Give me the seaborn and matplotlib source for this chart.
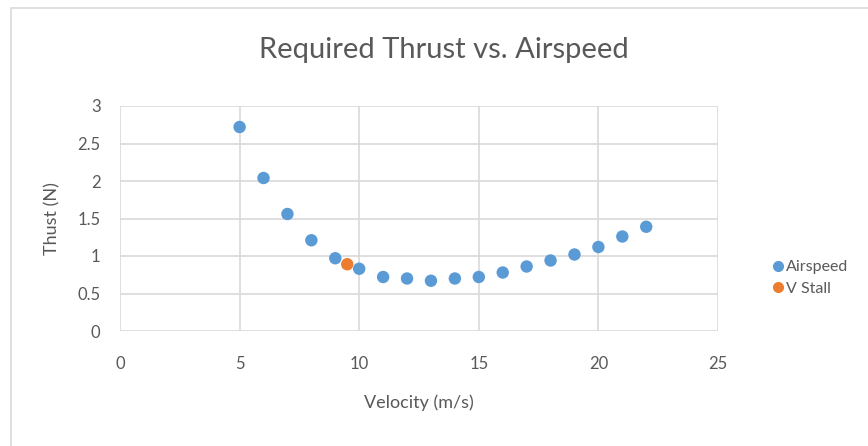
import matplotlib
matplotlib.use("Agg")
import matplotlib.pyplot as plt
import seaborn as sns
import pandas as pd
from matplotlib.patches import Rectangle
from matplotlib.lines import Line2D

velocity = [5, 6, 7, 8, 9, 10, 11, 12, 13, 14, 15, 16, 17, 18, 19, 20, 21, 22]
thrust = [2.72, 2.04, 1.56, 1.21, 0.97, 0.83, 0.72, 0.70, 0.67, 0.70, 0.72, 0.78, 0.86, 0.94, 1.02, 1.12, 1.26, 1.39]
stall_velocity = [9.5]
stall_thrust = [0.89]

series_names = ["Airspeed", "V Stall"]
colors = ["#5B9BD5", "#ED7D31"]
title = "Required Thrust vs. Airspeed"
xlabel = "Velocity (m/s)"
ylabel = "Thust (N)"

sns.set_theme(style="white")
plt.rcParams['font.family'] = ['Lato', 'DejaVu Sans']
text_color = "#595959"

fig = plt.figure(figsize=(8.68, 4.46), dpi=100)
fig.patches.append(Rectangle((11 / 868, -0.1), 2.0, (446 - 8) / 446 + 0.1,
                             transform=fig.transFigure, facecolor="none",
                             edgecolor="#D9D9D9", linewidth=1.2, zorder=0))
ax = fig.add_axes([120 / 868, (446 - 331) / 446, (718 - 120) / 868, (331 - 106) / 446])

df_a = pd.DataFrame({"x": velocity, "y": thrust})
df_s = pd.DataFrame({"x": stall_velocity, "y": stall_thrust})
sns.scatterplot(data=df_a, x="x", y="y", ax=ax, color=colors[0], s=80, edgecolor="none", zorder=3)
sns.scatterplot(data=df_s, x="x", y="y", ax=ax, color=colors[1], s=80, edgecolor="none", zorder=4)

ax.set_xlim(0, 25)
ax.set_ylim(0, 3)
ax.set_xticks([0, 5, 10, 15, 20, 25])
ax.set_xticklabels(["0", "5", "10", "15", "20", "25"])
ax.set_yticks([0, 0.5, 1, 1.5, 2, 2.5, 3])
ax.set_yticklabels(["0", "0.5", "1", "1.5", "2", "2.5", "3"])
ax.grid(True, color="#D9D9D9", linewidth=1.2)
ax.set_axisbelow(True)
for sp in ax.spines.values():
    sp.set_visible(False)
ax.tick_params(axis="both", length=0, labelsize=12, labelcolor=text_color)
ax.tick_params(axis="x", pad=18)
ax.tick_params(axis="y", pad=14)
ax.set_xlabel(xlabel, fontsize=13, color=text_color, labelpad=16)
ax.set_ylabel(ylabel, fontsize=13, color=text_color, labelpad=12)

fig.text(444 / 868, 1 - 50 / 446, title, fontsize=21, color=text_color, ha="center", va="center")

handles = [Line2D([], [], marker="o", linestyle="none", markersize=8, color=c, markeredgewidth=0)
           for c in colors]
fig.legend(handles, series_names, loc="center left", bbox_to_anchor=(762 / 868, 1 - 278 / 446),
           frameon=False, fontsize=11.5, labelcolor=text_color, handletextpad=0.0,
           handlelength=1.0, labelspacing=0.45, borderpad=0)

fig.savefig("out.png", dpi=100)
